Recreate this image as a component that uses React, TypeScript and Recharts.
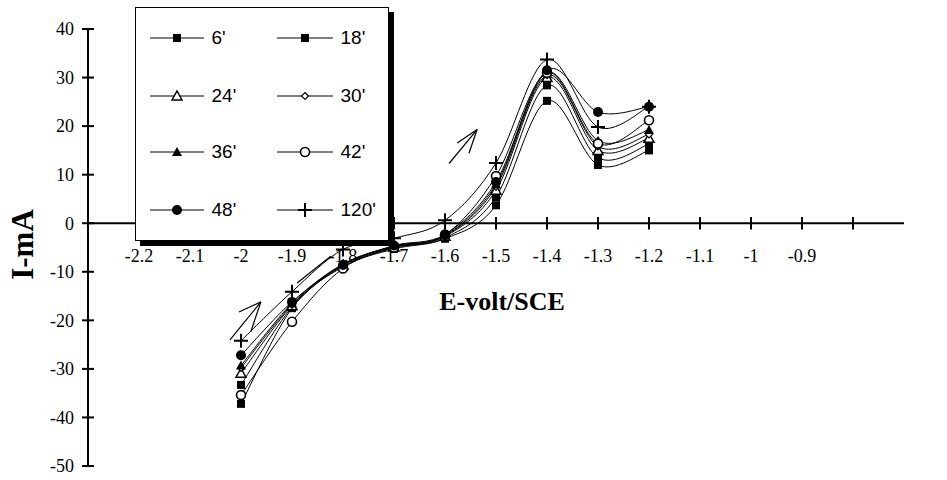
import { LineChart, Line, XAxis, YAxis, ReferenceLine, Legend } from "recharts";

// potential (V vs SCE) and current (mA)
const potential = [-2, -1.9, -1.8, -1.7, -1.6, -1.5, -1.4, -1.3, -1.2];
const current6 = [-37.2, -17.5, -9, -5.3, -3.2, 3.7, 25.2, 12, 15];
const current18 = [-33.3, -17.3, -8.8, -5.1, -3, 5.4, 28.4, 13.5, 16.3];
const current24 = [-30.9, -17, -8.6, -4.9, -2.7, 6.8, 30, 15, 17.5];
const current30 = [-29.8, -16.8, -8.5, -4.8, -2.6, 7.5, 30.5, 15.8, 18.3];
const current36 = [-29.3, -16.5, -8.4, -4.7, -2.5, 8, 31, 17, 19.2];
const current42 = [-35.4, -20.3, -9.3, -5, -2.4, 9.7, 31, 16.4, 21.2];
const current48 = [-27.2, -16.2, -8.6, -4.6, -2.3, 8.5, 31.5, 22.9, 24];
const current120 = [-24.2, -14.1, -5.4, -3.1, 0.6, 12.4, 33.7, 19.8, 24];

const xTicks = [-2.2, -2.1, -2, -1.9, -1.8, -1.7, -1.6, -1.5, -1.4, -1.3, -1.2, -1.1, -1, -0.9, -0.8];
const xTickLabels = ["-2.2", "-2.1", "-2", "-1.9", "-1.8", "-1.7", "-1.6", "-1.5", "-1.4", "-1.3", "-1.2", "-1.1", "-1", "-0.9", ""];
const yTicks = [-50, -40, -30, -20, -10, 0, 10, 20, 30, 40];

// hand drawn arrows on the original figure (data coordinates)
const arrows = [
  [[-1.592, 12.3], [-1.537, 19.3]],
  [[-1.576, 16.5], [-1.537, 19.3]],
  [[-1.553, 14.4], [-1.537, 19.3]],
  [[-2.022, -24.1], [-1.961, -16.2]],
  [[-2.004, -18.3], [-1.961, -16.2]],
  [[-1.981, -22.4], [-1.961, -16.2]],
  [[-1.89, -12.3], [-1.824, -6.8]],
];

const series = [
  { key: "t6", name: "6'", values: current6, marker: "square" },
  { key: "t18", name: "18'", values: current18, marker: "square" },
  { key: "t24", name: "24'", values: current24, marker: "triangleOpen" },
  { key: "t30", name: "30'", values: current30, marker: "diamond" },
  { key: "t36", name: "36'", values: current36, marker: "triangle" },
  { key: "t42", name: "42'", values: current42, marker: "circleOpen" },
  { key: "t48", name: "48'", values: current48, marker: "circle" },
  { key: "t120", name: "120'", values: current120, marker: "plus" },
];

const rows = potential.map((e, i) => {
  const row: Record<string, number> = { e };
  series.forEach((s) => (row[s.key] = s.values[i]));
  return row;
});

const serif = "'Liberation Serif', 'Times New Roman', serif";
const sans = "'Liberation Sans', Arial, sans-serif";

// excel-like smoothed line (catmull-rom as bezier)
const excelSmooth = (context: any) => {
  let xs: number[] = [];
  let ys: number[] = [];
  return {
    areaStart() {},
    areaEnd() {},
    lineStart() {
      xs = [];
      ys = [];
    },
    point(x: number, y: number) {
      xs.push(+x);
      ys.push(+y);
    },
    lineEnd() {
      const n = xs.length;
      if (!n) return;
      context.moveTo(xs[0], ys[0]);
      for (let i = 0; i < n - 1; i++) {
        const a = Math.max(i - 1, 0);
        const d = Math.min(i + 2, n - 1);
        context.bezierCurveTo(
          xs[i] + (xs[i + 1] - xs[a]) / 6,
          ys[i] + (ys[i + 1] - ys[a]) / 6,
          xs[i + 1] - (xs[d] - xs[i]) / 6,
          ys[i + 1] - (ys[d] - ys[i]) / 6,
          xs[i + 1],
          ys[i + 1]
        );
      }
    },
  };
};

function Marker({ kind, cx, cy }: { kind: string; cx: number; cy: number }) {
  switch (kind) {
    case "square":
      return <rect x={cx - 4} y={cy - 4} width={8} height={8} fill="#000" />;
    case "triangleOpen":
      return <polygon points={`${cx},${cy - 5} ${cx + 5},${cy + 4} ${cx - 5},${cy + 4}`} fill="#fff" stroke="#000" strokeWidth={1.5} />;
    case "triangle":
      return <polygon points={`${cx},${cy - 5} ${cx + 5},${cy + 4} ${cx - 5},${cy + 4}`} fill="#000" />;
    case "diamond":
      return <polygon points={`${cx},${cy - 3.5} ${cx + 3.5},${cy} ${cx},${cy + 3.5} ${cx - 3.5},${cy}`} fill="#fff" stroke="#000" strokeWidth={1.2} />;
    case "circleOpen":
      return <circle cx={cx} cy={cy} r={4.5} fill="#fff" stroke="#000" strokeWidth={1.6} />;
    case "circle":
      return <circle cx={cx} cy={cy} r={5} fill="#000" />;
    default:
      return <path d={`M${cx - 7},${cy}H${cx + 7}M${cx},${cy - 7}V${cy + 7}`} stroke="#000" strokeWidth={2} fill="none" />;
  }
}

const YTick = ({ x, y, payload }: any) => (
  <g>
    <line x1={x - 6} x2={x + 6} y1={y} y2={y} stroke="#000" strokeWidth={2} />
    <text x={x - 14} y={y} dy="0.35em" textAnchor="end" fontSize={18} style={{ fontFamily: serif }} fill="#000">
      {payload.value}
    </text>
  </g>
);

const XTickLabel = ({ viewBox, text }: any) => (
  <text x={viewBox.x} y={viewBox.y + viewBox.height + 32} textAnchor="middle" fontSize={18} style={{ fontFamily: serif }} fill="#000">
    {text}
  </text>
);

const YTitle = ({ viewBox }: any) => (
  <text
    transform={`translate(${viewBox.x - 6},${viewBox.y + viewBox.height / 2 - 3}) rotate(-90)`}
    textAnchor="middle"
    dominantBaseline="central"
    fontSize={31}
    fontWeight="bold"
    style={{ fontFamily: serif }}
    fill="#000"
  >
    I-mA
  </text>
);

const XTitle = ({ viewBox }: any) => (
  <text x={viewBox.x + 414} y={viewBox.y + 87} textAnchor="middle" fontSize={26} fontWeight="bold" style={{ fontFamily: serif }} fill="#000">
    E-volt/SCE
  </text>
);

const legendRows = [29.5, 87.5, 143.5, 201.5];
const legendCols = [
  { left: 13.5, width: 54 },
  { left: 140.5, width: 56 },
];

function LegendBox() {
  return (
    <div
      style={{
        position: "relative",
        width: 254,
        height: 234,
        boxSizing: "border-box",
        border: "1.5px solid #000",
        boxShadow: "5px 5px 0 #000",
        background: "#fff",
      }}
    >
      {series.map((s, i) => {
        const col = legendCols[i % 2];
        const top = legendRows[Math.floor(i / 2)];
        return (
          <div key={s.key} style={{ position: "absolute", left: col.left, top: top - 12, height: 24, display: "flex", alignItems: "center" }}>
            <svg width={col.width} height={24} style={{ display: "block" }}>
              <line x1={0} x2={col.width} y1={12} y2={12} stroke="#000" strokeWidth={1} />
              <Marker kind={s.marker} cx={col.width / 2} cy={12} />
            </svg>
            <span style={{ marginLeft: 8, fontFamily: sans, fontSize: 19, lineHeight: "24px", color: "#000" }}>{s.name}</span>
          </div>
        );
      })}
    </div>
  );
}

export default function App() {
  return (
    <div style={{ position: "absolute", left: 0, top: 0, width: 947, height: 480, background: "#fff" }}>
      <LineChart width={947} height={480} data={rows} margin={{ top: 29, right: 43, bottom: 14, left: 28 }}>
        <XAxis type="number" dataKey="e" domain={[-2.3, -0.7]} hide allowDataOverflow />
        <YAxis
          type="number"
          domain={[-50, 40]}
          ticks={yTicks}
          interval={0}
          width={60}
          axisLine={{ stroke: "#000", strokeWidth: 2 }}
          tickLine={false}
          tickSize={0}
          tickMargin={0}
          tick={<YTick />}
          label={<YTitle />}
        />
        <ReferenceLine y={0} stroke="#000" strokeWidth={2} label={<XTitle />} />
        {xTicks.map((v, i) => (
          <ReferenceLine
            key={v}
            segment={[
              { x: v, y: -1.3 },
              { x: v, y: 1.3 },
            ]}
            stroke="#000"
            strokeWidth={2}
            label={<XTickLabel text={xTickLabels[i]} />}
          />
        ))}
        {arrows.map((a, i) => (
          <ReferenceLine
            key={"arrow" + i}
            segment={[
              { x: a[0][0], y: a[0][1] },
              { x: a[1][0], y: a[1][1] },
            ]}
            stroke="#000"
            strokeWidth={1.2}
          />
        ))}
        {series.map((s) => (
          <Line
            key={s.key}
            dataKey={s.key}
            name={s.name}
            type={excelSmooth as any}
            stroke="#000"
            strokeWidth={1}
            dot={(p: any) => <Marker key={s.key + p.index} kind={s.marker} cx={p.cx} cy={p.cy} />}
            activeDot={false}
            isAnimationActive={false}
          />
        ))}
        <Legend
          layout="vertical"
          align="center"
          verticalAlign="middle"
          wrapperStyle={{ left: 135, top: 7, width: 260, height: 240 }}
          content={() => <LegendBox />}
        />
      </LineChart>
    </div>
  );
}
